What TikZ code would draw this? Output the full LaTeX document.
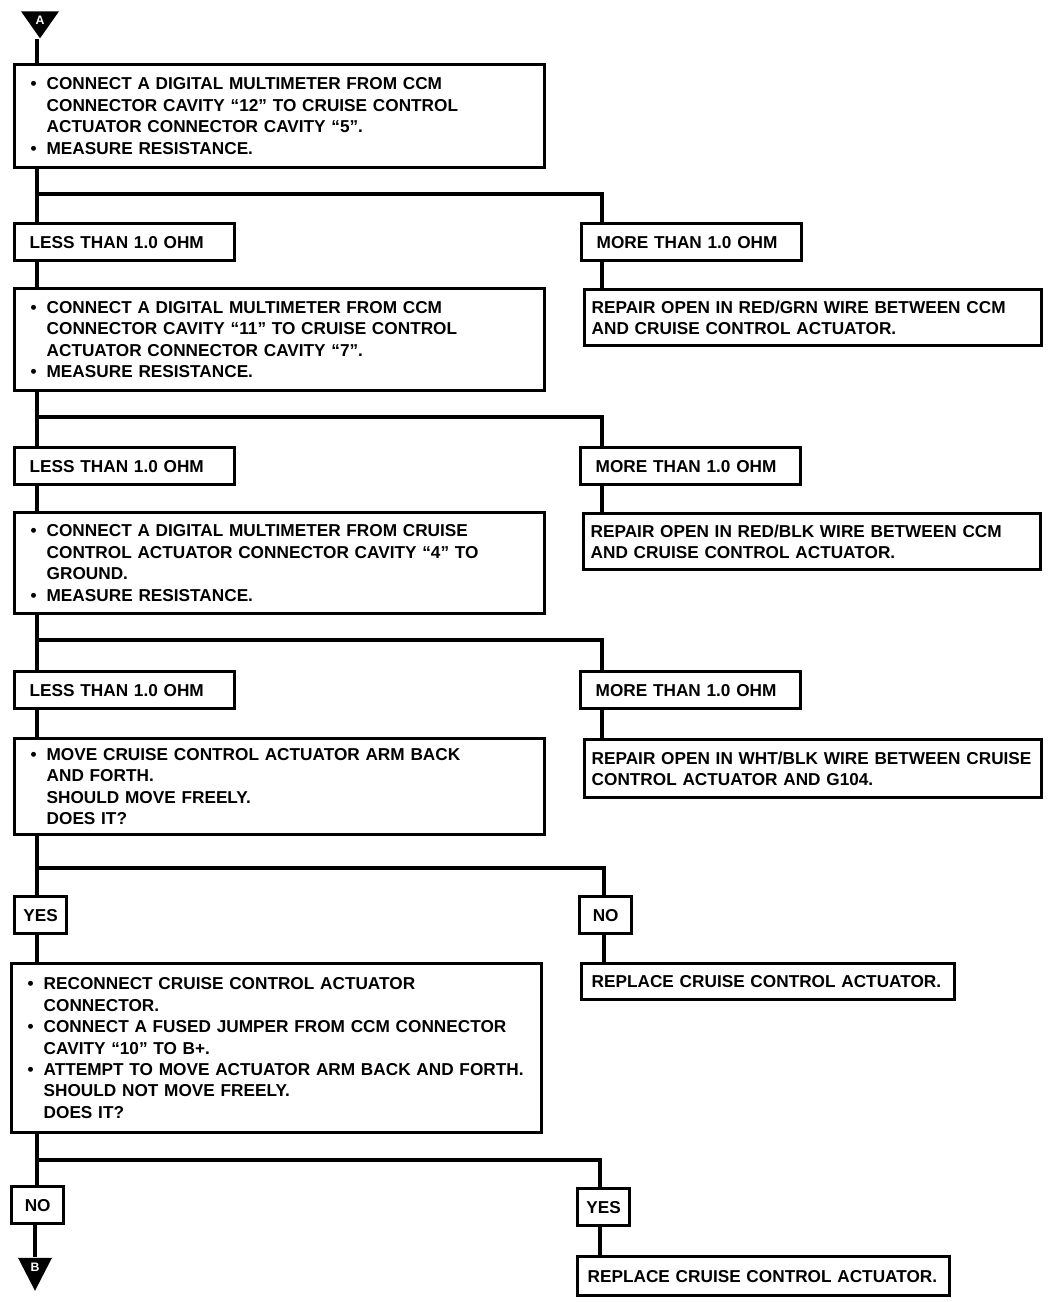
\documentclass[tikz,border=0pt]{standalone}
\usepackage{fontspec}
\usepackage{tikz}
\setmainfont{Liberation Sans}
\usetikzlibrary{positioning,shapes.geometric}
\colorlet{ccink}{black}
\hyphenpenalty=10000
\exhyphenpenalty=10000
\newcommand{\ccbul}{\makebox[3.2mm][l]{\textbullet}}
\newcommand{\ccind}{\hspace*{3.2mm}}
\tikzset{
  ccframe/.style={
    draw=ccink,
    line width=1.9pt,
    anchor=north west,
    align=left,
    inner ysep=0pt,
    font=\fontsize{9.8}{12.2}\selectfont\bfseries
  },
  ccstep/.style={ccframe,inner xsep=3.2mm,text width=99.6mm},
  ccresult/.style={ccframe,inner xsep=3mm,text width=38mm,minimum height=7.4mm},
  ccrepair/.style={ccframe,inner xsep=1.4mm,text width=88.6mm,minimum height=11.2mm},
  ccanswer/.style={ccframe,align=center,inner xsep=1mm,minimum width=10.4mm,
                   minimum height=7.4mm},
  ccflow/.style={draw=ccink,line width=1.9pt},
  ccmark/.style={isosceles triangle,isosceles triangle stretches,
                 shape border rotate=270,fill=ccink,text=white,inner sep=0pt,
                 minimum width=7.6mm,minimum height=5.4mm,
                 font=\fontsize{7}{7}\selectfont\bfseries}
}

\begin{document}
\begin{tikzpicture}[x=0.2mm,y=-0.2mm]
  \useasboundingbox (0,0) rectangle (1056,1302);

  \node[ccmark] (markA) at (40,20) {A};

  \node[ccstep,minimum height=20.6mm] (box1) at (13,63)
    {\ccbul CONNECT A DIGITAL MULTIMETER FROM CCM\\
     \ccind CONNECTOR CAVITY ``12'' TO CRUISE CONTROL\\
     \ccind ACTUATOR CONNECTOR CAVITY ``5''.\\
     \ccbul MEASURE RESISTANCE.};
  \node[ccresult] (less1) at (13,222) {LESS THAN 1.0 OHM};
  \node[ccresult] (more1) at (580,222) {MORE THAN 1.0 OHM};
  \node[ccrepair] (rep1) at (583,288)
    {REPAIR OPEN IN RED/GRN WIRE BETWEEN CCM\\
     AND CRUISE CONTROL ACTUATOR.};

  \node[ccstep,minimum height=20.4mm] (box2) at (13,287)
    {\ccbul CONNECT A DIGITAL MULTIMETER FROM CCM\\
     \ccind CONNECTOR CAVITY ``11'' TO CRUISE CONTROL\\
     \ccind ACTUATOR CONNECTOR CAVITY ``7''.\\
     \ccbul MEASURE RESISTANCE.};
  \node[ccresult] (less2) at (13,446) {LESS THAN 1.0 OHM};
  \node[ccresult] (more2) at (579,446) {MORE THAN 1.0 OHM};
  \node[ccrepair] (rep2) at (582,512)
    {REPAIR OPEN IN RED/BLK WIRE BETWEEN CCM\\
     AND CRUISE CONTROL ACTUATOR.};

  \node[ccstep,minimum height=20.2mm] (box3) at (13,511)
    {\ccbul CONNECT A DIGITAL MULTIMETER FROM CRUISE\\
     \ccind CONTROL ACTUATOR CONNECTOR CAVITY ``4'' TO\\
     \ccind GROUND.\\
     \ccbul MEASURE RESISTANCE.};
  \node[ccresult] (less3) at (13,670) {LESS THAN 1.0 OHM};
  \node[ccresult] (more3) at (579,670) {MORE THAN 1.0 OHM};
  \node[ccrepair,minimum height=11.6mm] (rep3) at (583,738)
    {REPAIR OPEN IN WHT/BLK WIRE BETWEEN CRUISE\\
     CONTROL ACTUATOR AND G104.};

  \node[ccstep,minimum height=19.2mm] (box4) at (13,737)
    {\ccbul MOVE CRUISE CONTROL ACTUATOR ARM BACK\\
     \ccind AND FORTH.\\
     \ccind SHOULD MOVE FREELY.\\
     \ccind DOES IT?};
  \node[ccanswer] (yes1) at (13,895) {YES};
  \node[ccanswer] (no1) at (578,895) {NO};
  \node[ccrepair,inner xsep=2mm,text width=70.6mm,minimum height=7.2mm] (rep4) at (580,962)
    {REPLACE CRUISE CONTROL ACTUATOR.};

  \node[ccstep,minimum height=33.8mm] (box5) at (10,962)
    {\ccbul RECONNECT CRUISE CONTROL ACTUATOR\\
     \ccind CONNECTOR.\\
     \ccbul CONNECT A FUSED JUMPER FROM CCM CONNECTOR\\
     \ccind CAVITY ``10'' TO B+.\\
     \ccbul ATTEMPT TO MOVE ACTUATOR ARM BACK AND FORTH.\\
     \ccind SHOULD NOT MOVE FREELY.\\
     \ccind DOES IT?};
  \node[ccanswer] (no2) at (10,1185) {NO};
  \node[ccanswer] (yes2) at (576,1187) {YES};
  \node[ccrepair,inner xsep=2mm,text width=70.4mm,minimum height=7.8mm] (rep5) at (576,1255)
    {REPLACE CRUISE CONTROL ACTUATOR.};

  \node[ccmark,minimum width=6.8mm,minimum height=6.6mm] (markB) at (35,1267) {B};

  \coordinate (trunk) at (37,0);
  \coordinate (fork1) at (37,194);  \coordinate (side1) at (602,194);
  \coordinate (fork2) at (37,417);  \coordinate (side2) at (602,417);
  \coordinate (fork3) at (37,640);  \coordinate (side3) at (602,640);
  \coordinate (fork4) at (37,868);  \coordinate (side4) at (604,868);
  \coordinate (fork5) at (37,1160); \coordinate (side5) at (600,1160);

  \draw[ccflow] (markA.apex -| trunk) -- (box1.north -| trunk);
  \foreach \up/\lft/\rgt/\res/\k in {box1/less1/more1/rep1/1,box2/less2/more2/rep2/2,
      box3/less3/more3/rep3/3,box4/yes1/no1/rep4/4,box5/no2/yes2/rep5/5}{
    \draw[ccflow] (\up.south -| fork\k) -- (\lft.north -| fork\k);
    \draw[ccflow] (fork\k) -- (side\k) -- (side\k |- \rgt.north);
    \draw[ccflow] (\rgt.south -| side\k) -- (\res.north -| side\k);
  }
  \foreach \a/\b in {less1/box2,less2/box3,less3/box4,yes1/box5}{
    \draw[ccflow] (\a.south -| trunk) -- (\b.north -| trunk);
  }
  \draw[ccflow] (no2.south -| markB) -- (markB.lower side);
\end{tikzpicture}
\end{document}
